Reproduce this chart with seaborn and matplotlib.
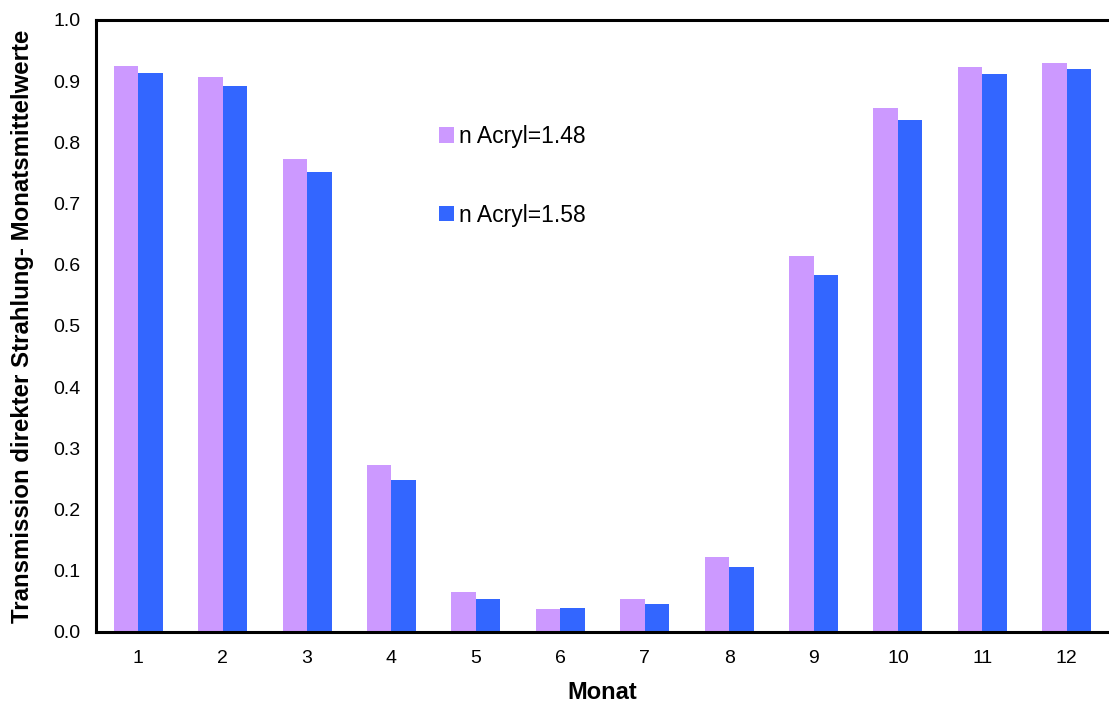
import matplotlib
matplotlib.use("Agg")
import matplotlib.pyplot as plt
import seaborn as sns
import pandas as pd
import numpy as np

months = ["1", "2", "3", "4", "5", "6", "7", "8", "9", "10", "11", "12"]
n148 = [0.925, 0.907, 0.773, 0.273, 0.065, 0.038, 0.054, 0.123, 0.614, 0.856, 0.923, 0.930]
n158 = [0.913, 0.892, 0.751, 0.248, 0.054, 0.039, 0.046, 0.106, 0.583, 0.837, 0.912, 0.920]
series = ["n Acryl=1.48", "n Acryl=1.58"]
colors = ["#CC99FF", "#3366FF"]

df = pd.DataFrame({
    "Monat": months * 2,
    "value": n148 + n158,
    "series": [series[0]] * 12 + [series[1]] * 12,
})

sns.set_style("white")
plt.rcParams["font.family"] = ["Liberation Sans", "DejaVu Sans"]
plt.rcParams["text.color"] = "black"
plt.rcParams["axes.labelcolor"] = "black"
plt.rcParams["xtick.color"] = "black"
plt.rcParams["ytick.color"] = "black"

fig = plt.figure(figsize=(11.09, 7.11), dpi=100)
ax = fig.add_axes([96 / 1109, (711 - 632) / 711, 1 - 96 / 1109, (632 - 20) / 711])

sns.barplot(data=df, x="Monat", y="value", hue="series", palette=colors,
            width=0.58, dodge=True, ax=ax, saturation=1, linewidth=0)

ax.set_xlim(-0.5, 11.5)
ax.set_ylim(0, 1.0)
ax.set_yticks(np.arange(0, 1.01, 0.1))
ax.set_yticklabels([f"{v:.1f}" for v in np.arange(0, 1.01, 0.1)], fontsize=14)
ax.set_xticks(range(12))
ax.set_xticklabels(months, fontsize=14)
ax.set_xticks(np.arange(-0.5, 11.6, 1.0), minor=True)
ax.tick_params(axis="x", which="major", length=0, pad=13)
ax.tick_params(axis="x", which="minor", length=6, width=1, color="black", direction="out")
ax.tick_params(axis="y", which="major", length=6, width=1, color="black", direction="out", pad=5)

for s in ["left", "bottom", "top"]:
    ax.spines[s].set_visible(True)
    ax.spines[s].set_color("black")
    ax.spines[s].set_linewidth(2.2)
ax.spines["right"].set_visible(False)

ax.set_xlabel("Monat", fontsize=17, fontweight="bold", labelpad=10)
ax.set_ylabel("Transmission direkter Strahlung- Monatsmittelwerte", fontsize=17.3,
              fontweight="bold", labelpad=14)

leg = ax.legend(loc="upper left", bbox_to_anchor=(0.318, 0.862), frameon=False,
                fontsize=16.5, labelspacing=2.42, handlelength=0.66, handleheight=0.66,
                handletextpad=0.22)

fig.savefig("out.png", dpi=100)
